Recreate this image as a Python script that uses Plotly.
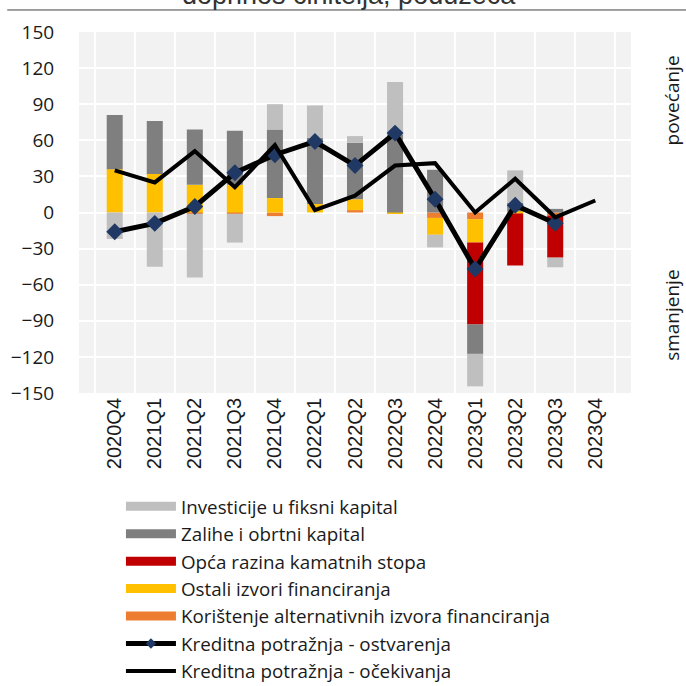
import plotly.graph_objects as go

# kvartali
categories = ['2020Q4', '2021Q1', '2021Q2', '2021Q3', '2021Q4', '2022Q1', '2022Q2',
              '2022Q3', '2022Q4', '2023Q1', '2023Q2', '2023Q3', '2023Q4']

# doprinosi činitelja (neto postotak)
investicije = [-22, -45, -53, -24, 21, 27, 5.5, 43.5, -10.5, -27, 27, -8, None]
zalihe = [45, 44, 46, 45, 57, 55, 47, 65, 35.5, -24.5, 7, 3, None]
kamatne_stope = [0, 0, 0, 0, 0, 0, 0, 0, 0, -68, -43, -35, None]
ostali_izvori = [36, 32, 23, 23, 12, 7, 9, -0.5, -14, -19.5, 1, 0, None]
alternativni_izvori = [0, 0, -1, -1, -3, 0, 2, 0, -4.5, -5.5, -1, -2.5, None]

# kreditna potražnja
ostvarenja = [-16, -9, 5, 33, 48, 59, 39, 66, 11, -47, 6, -9, None]
ocekivanja = [35, 25, 51, 21, 56, 2, 14, 39, 41, 0, 28, -4, 10]

TEXT = '#1a1a1a'
fig = go.Figure()

# redoslijed slaganja: prvi trag je najbliži nuli
bar_series = [
    ('Korištenje alternativnih izvora financiranja', alternativni_izvori, '#ed7d31', 5),
    ('Ostali izvori financiranja', ostali_izvori, '#ffc000', 4),
    ('Opća razina kamatnih stopa', kamatne_stope, '#c00000', 3),
    ('Zalihe i obrtni kapital', zalihe, '#7f7f7f', 2),
    ('Investicije u fiksni kapital', investicije, '#bfbfbf', 1),
]
for name, values, color, rank in bar_series:
    fig.add_trace(go.Bar(
        x=categories, y=values, name=name,
        marker=dict(color=color, line=dict(width=0)),
        showlegend=False,
    ))
    # široki pravokutni ključ u legendi
    fig.add_trace(go.Scatter(
        x=[categories[0]], y=[None], name=name, mode='lines',
        line=dict(color=color, width=9), legendrank=rank,
    ))

fig.add_trace(go.Scatter(
    x=categories, y=ostvarenja, name='Kreditna potražnja - ostvarenja',
    mode='lines+markers',
    line=dict(color='black', width=5),
    marker=dict(symbol='diamond', size=13, color='#1f3864'),
    showlegend=False,
))
fig.add_trace(go.Scatter(
    x=[categories[0]], y=[None], name='Kreditna potražnja - ostvarenja',
    mode='lines+markers', line=dict(color='black', width=5),
    marker=dict(symbol='diamond', size=8, color='#1f3864'), legendrank=6,
))
fig.add_trace(go.Scatter(
    x=categories, y=ocekivanja, name='Kreditna potražnja - očekivanja',
    mode='lines',
    line=dict(color='black', width=4),
    legendrank=7,
))

fig.update_layout(
    width=686, height=686,
    margin=dict(l=79, r=55, t=32, b=293, autoexpand=False),
    paper_bgcolor='white',
    plot_bgcolor='#f2f2f2',
    barmode='relative',
    bargap=0.6,
    font=dict(family='Open Sans', size=19, color=TEXT),
    legend=dict(
        x=0.076, y=-0.262, xanchor='left', yanchor='top',
        font=dict(family='Open Sans', size=18.8, color=TEXT),
        itemwidth=50, tracegroupgap=0,
        bgcolor='rgba(0,0,0,0)', traceorder='normal',
    ),
)

fig.update_xaxes(
    type='category', tickangle=-90, automargin=False,
    tickfont=dict(family='Liberation Sans', size=20, color=TEXT),
    showgrid=True, gridcolor='white', gridwidth=2, tickson='boundaries',
    ticks='outside', ticklen=12, tickcolor='rgba(0,0,0,0)',
    showline=False, zeroline=False,
)
fig.update_yaxes(
    range=[-150, 150], dtick=30, automargin=False,
    tickfont=dict(family='Open Sans', size=19, color=TEXT),
    showgrid=True, gridcolor='white', gridwidth=2, zeroline=False,
    ticks='outside', ticklen=20, tickcolor='rgba(0,0,0,0)',
    showline=False,
)

# naslov (odrezan pri vrhu) i okvir
fig.add_annotation(
    text='doprinos činitelja, poduzeća', xref='paper', yref='paper',
    x=0.49, y=1.055, xanchor='center', yanchor='bottom', showarrow=False,
    font=dict(family='Liberation Sans', size=27, color='#333333'),
)
fig.add_shape(type='line', xref='paper', yref='paper',
              x0=-0.13, x1=1.1, y0=1.061, y1=1.061,
              line=dict(color='#404040', width=1))

# oznake smjera
fig.add_annotation(text='povećanje', xref='paper', yref='paper',
                   x=1.074, y=0.81, xanchor='center', yanchor='middle',
                   textangle=-90, showarrow=False,
                   font=dict(family='Open Sans', size=19, color=TEXT))
fig.add_annotation(text='smanjenje', xref='paper', yref='paper',
                   x=1.074, y=0.216, xanchor='center', yanchor='middle',
                   textangle=-90, showarrow=False,
                   font=dict(family='Open Sans', size=19, color=TEXT))

fig.write_html("out.html", config=dict(displayModeBar=False),
               post_script="document.body.style.margin='0px';")
